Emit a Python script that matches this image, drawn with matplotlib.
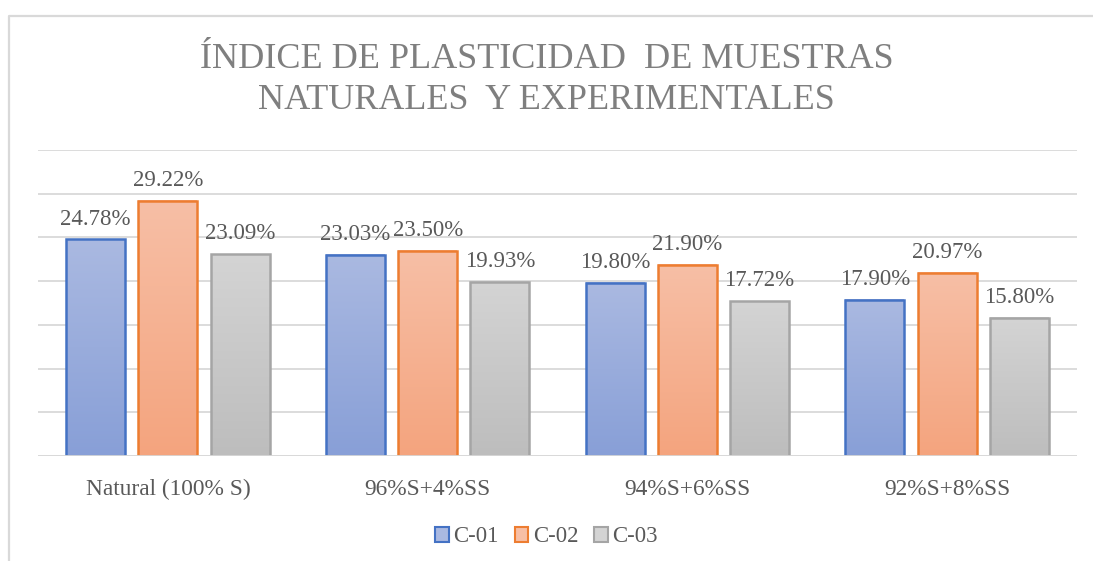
import numpy as np
import matplotlib as mpl
import matplotlib.pyplot as plt
from matplotlib.colors import LinearSegmentedColormap
from matplotlib.patches import Rectangle
from matplotlib.lines import Line2D

mpl.rcParams.update({
    "font.family": "serif",
    "font.serif": ["Liberation Serif", "DejaVu Serif"],
})

# Data
categories = ["Natural (100% S)", "96%S+4%SS", "94%S+6%SS", "92%S+8%SS"]
series_names = ["C-01", "C-02", "C-03"]
c01 = [24.78, 23.03, 19.80, 17.90]
c02 = [29.22, 23.50, 21.90, 20.97]
c03 = [23.09, 19.93, 17.72, 15.80]

# (edge, gradient top, gradient bottom)
styles = [
    ("#4472C4", "#AAB9E1", "#889FD7"),
    ("#ED7D31", "#F7BFA6", "#F4A47E"),
    ("#A5A5A5", "#D4D4D4", "#BDBDBD"),
]

TEXT = "#595959"
GRID = "#D9D9D9"

W, H = 1093, 561
fig = plt.figure(figsize=(W / 100, H / 100), dpi=100)

# chart border (top and left edges only, the rest runs off the image)
fig.add_artist(Line2D([9 / W, 9 / W, 1.0], [0.0, 1 - 16 / H, 1 - 16 / H],
                      transform=fig.transFigure, color=GRID, lw=1.6))

ax = fig.add_axes([38 / W, (H - 456) / H, (1077 - 38) / W, (456 - 150) / H])
ax.set_yticks(np.arange(0, 36, 5))
ax.yaxis.grid(True, color=GRID, lw=1.3)
ax.set_axisbelow(True)
for s in ax.spines.values():
    s.set_visible(False)
ax.tick_params(axis="y", left=False, labelleft=False)
ax.tick_params(axis="x", bottom=False, labelsize=16.8, labelcolor=TEXT, pad=13)
ax.set_xticks(range(len(categories)))
ax.set_xticklabels(categories)

x = np.arange(len(categories))
bw = 0.227
step = 0.278
grad = np.linspace(0, 1, 256).reshape(-1, 1)

for i, vals in enumerate([c01, c02, c03]):
    edge, top, bot = styles[i]
    cmap = LinearSegmentedColormap.from_list(f"g{i}", [top, bot])
    bars = ax.bar(x + (i - 1) * step, vals, bw, facecolor="none",
                  edgecolor=edge, lw=1.8, zorder=3)
    for b, v in zip(bars, vals):
        x0, w = b.get_x(), b.get_width()
        ax.imshow(grad, extent=(x0, x0 + w, 0, v), cmap=cmap,
                  aspect="auto", origin="upper", zorder=2)
        ax.annotate(f"{v:.2f}%", (x0 + w / 2, v), xytext=(0, 7),
                    textcoords="offset points", ha="center", va="bottom",
                    fontsize=16.5, color=TEXT)
ax.set_xlim(-0.5, len(categories) - 0.5)
ax.set_ylim(0, 35)

# baseline
ax.axhline(0, color=GRID, lw=1.3, zorder=4)

fig.text(0.5, 1 - 80 / H, "ÍNDICE DE PLASTICIDAD  DE MUESTRAS\nNATURALES  Y EXPERIMENTALES",
         ha="center", va="center", fontsize=26, color="#7F7F7F", linespacing=1.32)

handles = [Rectangle((0, 0), 1, 1, facecolor=s[1], edgecolor=s[0], lw=1.5) for s in styles]
fig.legend(handles, series_names, loc="center", bbox_to_anchor=(0.5, 1 - 537 / H),
           ncol=3, frameon=False, fontsize=16.4, labelcolor=TEXT,
           handlelength=0.6, handleheight=0.6, handletextpad=0.2, columnspacing=0.7)

fig.savefig("out.png", dpi=100)
